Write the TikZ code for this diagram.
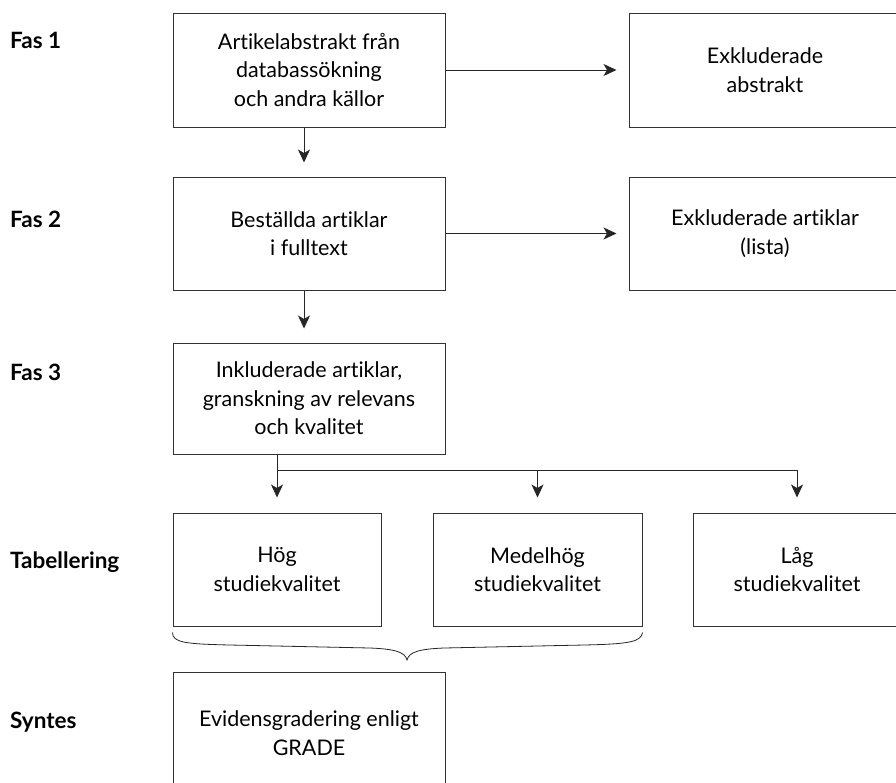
\documentclass[tikz,border=0pt]{standalone}
\usepackage{fontspec}
\setmainfont{Lato}[Ligatures={NoCommon,NoRare,NoContextual}]
\usetikzlibrary{arrows.meta}
\begin{document}
\begin{tikzpicture}[x=1pt,y=-1pt,
  box/.style={draw=black!80, line width=1pt, rectangle, align=center, inner sep=0pt,
    font=\fontsize{21.5}{28.5}\selectfont},
  phase/.style={anchor=base west, inner sep=0pt, font=\fontsize{22.5}{26}\selectfont\bfseries},
  conn/.style={draw=black!85, line width=1pt},
  arr/.style={conn, -{Stealth[length=13pt,width=12pt,inset=3.5pt]}}]
\clip (0,0) rectangle (896,782);
\fill[white] (0,0) rectangle (896,782);

% phase labels
\node[phase] (f1) at (10,48) {Fas 1};
\node[phase] (f2) at (10,227) {Fas 2};
\node[phase] (f3) at (10,380) {Fas 3};
\node[phase] (tab) at (10,568) {Tabellering};
\node[phase] (syn) at (10,728) {Syntes};

% boxes
\node[box, minimum width=272pt, minimum height=114pt] (b1) at (309,70) {Artikelabstrakt från\\databassökning\\och andra källor};
\node[box, minimum width=272pt, minimum height=114pt] (e1) at (765,70) {Exkluderade\\abstrakt};
\node[box, minimum width=272pt, minimum height=113pt] (b2) at (309,233.5) {Beställda artiklar\\i fulltext};
\node[box, minimum width=272pt, minimum height=113pt] (e2) at (765,233.5) {Exkluderade artiklar\\(lista)};
\node[box, minimum width=272pt, minimum height=111pt] (b3) at (309,398.5) {Inkluderade artiklar,\\granskning av relevans\\och kvalitet};
\node[box, minimum width=208pt, minimum height=113pt] (hog) at (277,569.5) {Hög\\studiekvalitet};
\node[box, minimum width=209pt, minimum height=113pt] (med) at (537.5,569.5) {Medelhög\\studiekvalitet};
\node[box, minimum width=208pt, minimum height=113pt] (lag) at (797,569.5) {Låg\\studiekvalitet};
\node[box, minimum width=272pt, minimum height=122pt] (gr) at (309,733) {Evidensgradering enligt\\GRADE};

% connectors
\draw[arr, shorten >=12pt] (b1.east) -- (e1.west);
\draw[arr, shorten >=12pt] (b2.east) -- (e2.west);
\draw[arr, shorten >=14pt] ([xshift=-5pt]b1.south) -- ([xshift=-5pt]b2.north);
\draw[arr, shorten >=14pt] ([xshift=-5pt]b2.south) -- ([xshift=-5pt]b3.north);

\coordinate (j1) at (hog.north |- 0,470);
\coordinate (j2) at (med.north |- 0,470);
\coordinate (j3) at (lag.north |- 0,470);
\draw[conn] (hog.north |- b3.south) -- (j1) -- (j3);
\draw[arr, shorten >=15pt] (j1) -- (hog.north);
\draw[arr, shorten >=15pt] (j2) -- (med.north);
\draw[arr, shorten >=15pt] (j3) -- (lag.north);

% brace
\coordinate (bl) at ([yshift=-6pt]hog.south west);
\coordinate (br) at ([yshift=-6pt]med.south east);
\coordinate (bt) at (407,660);
\draw[conn, line width=0.8pt] (bl) .. controls ++(0,10) and (185,644) .. (230,645)
  -- (370,648) .. controls (395,649) and (405,652) .. (bt)
  .. controls (409,652) and (419,649) .. (444,648)
  -- (584,645) .. controls (629,644) and (641,642) .. (br);
\end{tikzpicture}
\end{document}
